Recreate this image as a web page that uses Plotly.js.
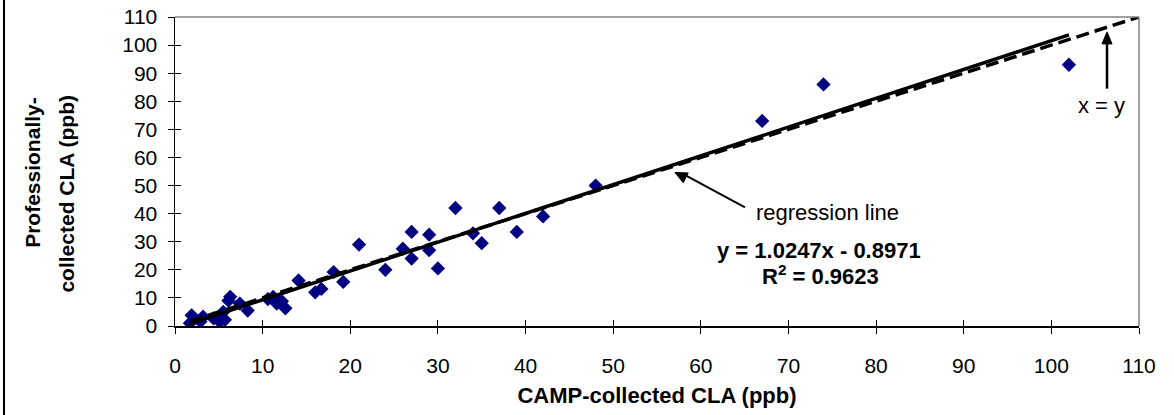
<!DOCTYPE html>
<html>
<head>
<meta charset="utf-8">
<script src="https://cdn.plot.ly/plotly-3.0.1.min.js"></script>
<style>
  html, body { margin: 0; padding: 0; background: #fff; }
  #wrap { position: relative; width: 1174px; height: 415px; }
  #chart { width: 1174px; height: 415px; }
  #frame { position: absolute; left: 3px; top: 0; width: 2px; height: 415px; background: #000; }
</style>
</head>
<body>
<div id="wrap">
  <div id="chart"></div>
  <div id="frame"></div>
</div>
<script>
// CAMP-collected CLA (ppb)
const campCLA = [1.7, 1.9, 2.9, 3.2, 4.4, 5.1, 5.7, 5.5, 6.1, 6.3, 7.4, 8.3,
  10.6, 11.2, 11.6, 12.2, 12.6, 14.1, 16.0, 16.7, 18.1, 19.2, 21, 24, 26, 27, 27,
  29, 29, 30, 32, 34, 35, 37, 39, 42, 48, 67, 74, 102];
// Professionally-collected CLA (ppb)
const proCLA = [1.0, 3.8, 1.6, 3.3, 2.7, 1.5, 2.2, 5.0, 9.0, 10.4, 8.0, 5.5,
  9.6, 10.4, 8.0, 8.8, 6.3, 16.2, 12.0, 13.2, 19.2, 15.7, 29, 20, 27.5, 33.5, 24,
  32.5, 27, 20.5, 42, 33, 29.5, 42, 33.5, 39, 50, 73, 86, 93];

// Regression y = slope*x + intercept, over the data range
const slope = 1.0247;
const intercept = -0.8971;
const regX = [1.7, 102];
const regY = regX.map(v => slope * v + intercept);
// identity line x = y
const idX = [1.7, 110];
const idY = [1.7, 110];

const tickVals = [0, 10, 20, 30, 40, 50, 60, 70, 80, 90, 100, 110];

const FONT = 'Liberation Sans, Arial, sans-serif';

const traces = [
  {
    x: campCLA, y: proCLA, type: 'scatter', mode: 'markers',
    marker: { symbol: 'diamond', size: 11, color: '#000080', line: { width: 0 } },
    hoverinfo: 'x+y', showlegend: false
  },
  {
    x: idX, y: idY, type: 'scatter', mode: 'lines',
    line: { color: '#000', width: 3.5, dash: '13px,6px' },
    showlegend: false, hoverinfo: 'skip'
  },
  {
    x: regX, y: regY, type: 'scatter', mode: 'lines',
    line: { color: '#000', width: 3.5 },
    showlegend: false, hoverinfo: 'skip'
  },
  {
    x: [0], y: [0], xaxis: 'x2', yaxis: 'y2', type: 'scatter', mode: 'markers',
    marker: { opacity: 0 }, showlegend: false, hoverinfo: 'skip'
  }
];

const layout = {
  width: 1174, height: 415,
  margin: { l: 175, r: 35, t: 17, b: 89 },
  paper_bgcolor: '#fff', plot_bgcolor: '#fff',
  font: { family: FONT, size: 20, color: '#000' },
  showlegend: false,
  xaxis: {
    range: [0, 110], tickmode: 'array', tickvals: tickVals,
    ticks: 'outside', ticklen: 6, tickwidth: 1, tickcolor: '#000',
    showline: true, linecolor: '#000', linewidth: 1.5,
    showgrid: false, zeroline: false, mirror: false,
    tickfont: { family: FONT, size: 21, color: '#000' },
    ticklabelstandoff: 14,
    title: { text: 'CAMP-collected CLA (ppb)', font: { family: FONT, size: 22, color: '#000', weight: 'bold' }, standoff: 12 }
  },
  yaxis: {
    range: [0, 110], tickmode: 'array', tickvals: tickVals,
    ticks: 'outside', ticklen: 6, tickwidth: 1, tickcolor: '#000',
    showline: true, linecolor: '#000', linewidth: 1.5,
    showgrid: false, zeroline: false,
    tickfont: { family: FONT, size: 21, color: '#000' },
    ticklabelstandoff: 6
  },
  xaxis2: {
    overlaying: 'x', anchor: 'y2', range: [0, 110], tickmode: 'array', tickvals: tickVals,
    ticks: 'inside', ticklen: 6, tickwidth: 1, tickcolor: '#000',
    showticklabels: false, showline: false, showgrid: false, zeroline: false, side: 'bottom'
  },
  yaxis2: {
    overlaying: 'y', anchor: 'x2', range: [0, 110], tickmode: 'array', tickvals: tickVals,
    ticks: 'inside', ticklen: 6, tickwidth: 1, tickcolor: '#000',
    showticklabels: false, showline: false, showgrid: false, zeroline: false, side: 'left'
  },
  shapes: [
    { type: 'line', xref: 'paper', yref: 'paper', x0: 0, x1: 1, y0: 1, y1: 1, line: { color: '#808080', width: 1.5 } },
    { type: 'line', xref: 'paper', yref: 'paper', x0: 1, x1: 1, y0: 0, y1: 1, line: { color: '#808080', width: 1.5 } },
    // arrow to regression line
    { type: 'line', xref: 'x', yref: 'y', x0: 65.04, y0: 42.23, x1: 58.0, y1: 54.1, line: { color: '#000', width: 2 } },
    { type: 'path', xref: 'x', yref: 'y', xsizemode: 'pixel', ysizemode: 'pixel', xanchor: 57.05, yanchor: 54.65,
      path: 'M 0 0 L 13.2 -0.45 L 8.3 -10.3 Z', fillcolor: '#000', line: { color: '#000', width: 1 } },
    // arrow for x = y
    { type: 'line', xref: 'x', yref: 'y', x0: 106.35, y0: 84.5, x1: 106.35, y1: 101, line: { color: '#000', width: 2.5 } },
    { type: 'path', xref: 'x', yref: 'y', xsizemode: 'pixel', ysizemode: 'pixel', xanchor: 106.35, yanchor: 104.7,
      path: 'M 0 0 L -5 -12 L 5 -12 Z', fillcolor: '#000', line: { color: '#000', width: 1 } }
  ],
  annotations: [
    { xref: 'paper', yref: 'paper', x: -0.148, y: 0.5, yshift: -1, text: '<b>Professionally-</b>', textangle: -90,
      showarrow: false, font: { family: FONT, size: 21, color: '#000' }, xanchor: 'center', yanchor: 'middle' },
    { xref: 'paper', yref: 'paper', x: -0.113, y: 0.5, yshift: -22, text: '<b>collected CLA (ppb)</b>', textangle: -90,
      showarrow: false, font: { family: FONT, size: 21, color: '#000' }, xanchor: 'center', yanchor: 'middle' },
    { x: 74.5, y: 40.5, text: 'regression line', showarrow: false,
      font: { family: FONT, size: 22, color: '#000' }, xanchor: 'center', yanchor: 'middle' },
    { x: 73.5, y: 27.0, text: '<b>y = 1.0247x - 0.8971</b>', showarrow: false,
      font: { family: FONT, size: 22, color: '#000' }, xanchor: 'center', yanchor: 'middle' },
    { x: 73.6, y: 18.1, text: '<b>R<sup>2</sup> = 0.9623</b>', showarrow: false,
      font: { family: FONT, size: 22, color: '#000' }, xanchor: 'center', yanchor: 'middle' },
    { x: 105.7, y: 78.4, text: 'x = y', showarrow: false,
      font: { family: FONT, size: 22, color: '#000' }, xanchor: 'center', yanchor: 'middle' }
  ]
};

Plotly.newPlot('chart', traces, layout, { displayModeBar: false, staticPlot: true });
</script>
</body>
</html>
